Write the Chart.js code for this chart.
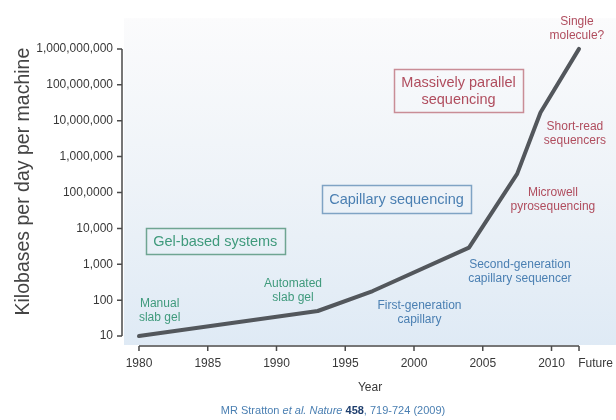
<!DOCTYPE html>
<html>
<head>
<meta charset="utf-8">
<script src="https://cdn.jsdelivr.net/npm/chart.js@4.4.1/dist/chart.umd.min.js"></script>
<style>
  html, body { margin: 0; padding: 0; background: #fff; }
  #wrap { width: 616px; height: 420px; position: relative; }
</style>
</head>
<body>
<div id="wrap"><canvas id="chart"></canvas></div>
<script>
// data (kilobases per day per machine, log scale)
const years = [1980, 1993, 1997, 2004, 2007.5, 2009.2, 2012];
const kbPerDay = [10, 50, 180, 2900, 330000, 17000000, 1000000000];

const yTickValues = [1e1, 1e2, 1e3, 1e4, 1e5, 1e6, 1e7, 1e8, 1e9];
const yTickLabels = ['10', '100', '1,000', '10,000', '100,0000', '1,000,000', '10,000,000', '100,000,000', '1,000,000,000'];
const xTickValues = [1980, 1985, 1990, 1995, 2000, 2005, 2010, 2013.2];
const xTickLabels = ['1980', '1985', '1990', '1995', '2000', '2005', '2010', 'Future'];
const xSpineTicks = [1980, 1985, 1990, 1995, 2000, 2005, 2010, 2012];

const GREEN = '#3f9a7c', BLUE = '#4a7fb2', RED = '#b04d5e';

// boxed era labels, anchored at [year, value]
const eraBoxes = [
  { text: ['Gel-based systems'], at: [1985.55, 4450], w: 139, h: 26, color: GREEN, border: '#6fa592' },
  { text: ['Capillary sequencing'], at: [1998.73, 64000], w: 149, h: 28, color: BLUE, border: '#7fa3c4' },
  { text: ['Massively parallel', 'sequencing'], at: [2003.24, 6.8e7], w: 129, h: 43, color: RED, border: '#c98d96' }
];

// technology labels, anchored at [year, value]
const techLabels = [
  { text: ['Manual', 'slab gel'], at: [1981.5, 52], color: GREEN },
  { text: ['Automated', 'slab gel'], at: [1991.2, 180], color: GREEN },
  { text: ['First-generation', 'capillary'], at: [2000.4, 46], color: BLUE },
  { text: ['Second-generation', 'capillary sequencer'], at: [2007.7, 640], color: BLUE },
  { text: ['Microwell', 'pyrosequencing'], at: [2010.1, 62000], color: RED },
  { text: ['Short-read', 'sequencers'], at: [2011.7, 4.3e6], color: RED },
  { text: ['Single', 'molecule?'], at: [2011.85, 3.7e9], color: RED }
];

const FONT = '"Liberation Sans", Arial, Helvetica, sans-serif';

const bgPlugin = {
  id: 'bg',
  beforeDraw(chart) {
    const { ctx, chartArea: a } = chart;
    const g = ctx.createLinearGradient(0, a.top, 0, a.bottom);
    g.addColorStop(0, '#fbfbfc');
    g.addColorStop(0.5, '#eef3f8');
    g.addColorStop(1, '#dfeaf5');
    ctx.save();
    ctx.fillStyle = g;
    ctx.fillRect(a.left, a.top, a.right - a.left, a.bottom - a.top);
    ctx.restore();
  }
};

function drawLines(ctx, lines, cx, cy, lh) {
  const y0 = cy - (lines.length - 1) * lh / 2;
  lines.forEach((t, i) => ctx.fillText(t, cx, y0 + i * lh));
}

const annotationPlugin = {
  id: 'annotations',
  afterDatasetsDraw(chart) {
    const { ctx, scales: { x, y } } = chart;
    ctx.save();
    ctx.textAlign = 'center';
    ctx.textBaseline = 'middle';
    eraBoxes.forEach(b => {
      const cx = x.getPixelForValue(b.at[0]), cy = y.getPixelForValue(b.at[1]);
      ctx.strokeStyle = b.border;
      ctx.lineWidth = 1.5;
      ctx.strokeRect(Math.round(cx - b.w / 2) + 0.5, Math.round(cy - b.h / 2) + 0.5, b.w, b.h);
      ctx.fillStyle = b.color;
      ctx.font = '14.5px ' + FONT;
      drawLines(ctx, b.text, cx, cy + 1, 17);
    });
    techLabels.forEach(l => {
      const cx = x.getPixelForValue(l.at[0]), cy = y.getPixelForValue(l.at[1]);
      ctx.fillStyle = l.color;
      ctx.font = '12px ' + FONT;
      drawLines(ctx, l.text, cx, cy, 14);
    });
    ctx.restore();
  }
};

const spinePlugin = {
  id: 'spines',
  afterDraw(chart) {
    const { ctx, chartArea: a, scales: { x, y } } = chart;
    ctx.save();
    ctx.strokeStyle = '#4a4a4a';
    ctx.lineWidth = 1.5;
    // y spine
    const sx = a.left - 2;
    const yTop = y.getPixelForValue(yTickValues[yTickValues.length - 1]);
    const yBot = y.getPixelForValue(yTickValues[0]);
    ctx.beginPath();
    ctx.moveTo(sx, yTop); ctx.lineTo(sx, yBot);
    yTickValues.forEach(v => {
      const p = y.getPixelForValue(v);
      ctx.moveTo(sx - 5, p); ctx.lineTo(sx, p);
    });
    ctx.stroke();
    // x spine
    const sy = a.bottom + 1;
    const xl = x.getPixelForValue(xSpineTicks[0]);
    const xr = x.getPixelForValue(xSpineTicks[xSpineTicks.length - 1]);
    ctx.beginPath();
    ctx.moveTo(xl, sy); ctx.lineTo(xr, sy);
    xSpineTicks.forEach(v => {
      const p = x.getPixelForValue(v);
      ctx.moveTo(p, sy); ctx.lineTo(p, sy + 5);
    });
    ctx.stroke();

    // citation line
    const parts = [
      { t: 'MR Stratton ', f: '11px ' + FONT, c: BLUE },
      { t: 'et al.', f: 'italic 11px ' + FONT, c: BLUE },
      { t: ' ', f: '11px ' + FONT, c: BLUE },
      { t: 'Nature', f: 'italic 11px ' + FONT, c: BLUE },
      { t: ' ', f: '11px ' + FONT, c: BLUE },
      { t: '458', f: 'bold 11px ' + FONT, c: '#1f3f6e' },
      { t: ', 719-724 (2009)', f: '11px ' + FONT, c: BLUE }
    ];
    let total = 0;
    parts.forEach(p => { ctx.font = p.f; p.w = ctx.measureText(p.t).width; total += p.w; });
    let cx = 333 - total / 2;
    ctx.textBaseline = 'middle';
    ctx.textAlign = 'left';
    parts.forEach(p => { ctx.font = p.f; ctx.fillStyle = p.c; ctx.fillText(p.t, cx, 411); cx += p.w; });
    ctx.restore();
  }
};

function initChart() {
  const ctx = document.getElementById('chart').getContext('2d');
  new Chart(ctx, {
    type: 'line',
    data: {
      datasets: [{
        data: years.map((yr, i) => ({ x: yr, y: kbPerDay[i] })),
        borderColor: '#53575c',
        borderWidth: 4,
        borderJoinStyle: 'round',
        borderCapStyle: 'round',
        tension: 0,
        pointRadius: 0,
        fill: false
      }]
    },
    options: {
      responsive: true,
      maintainAspectRatio: false,
      animation: false,
      layout: { padding: { top: 15, left: 0, right: 0, bottom: 0 } },
      plugins: { legend: { display: false }, tooltip: { enabled: false } },
      scales: {
        x: {
          type: 'linear',
          min: 1978.91,
          max: 2014.69,
          grid: { display: false, drawTicks: false },
          border: { display: false },
          afterBuildTicks: s => { s.ticks = xTickValues.map(v => ({ value: v })); },
          afterFit: s => { s.height = 75; s.paddingLeft = 0; s.paddingRight = 0; },
          ticks: {
            padding: 11,
            color: '#383838',
            font: { family: FONT, size: 12 },
            maxRotation: 0,
            autoSkip: false,
            callback: (v, i) => xTickLabels[i]
          },
          title: {
            display: true,
            text: 'Year',
            color: '#383838',
            font: { family: FONT, size: 12 },
            padding: { top: 0, bottom: 25 }
          }
        },
        y: {
          type: 'logarithmic',
          min: 5.65,
          max: 7.16e9,
          grid: { display: false, drawTicks: false },
          border: { display: false },
          afterBuildTicks: s => { s.ticks = yTickValues.map(v => ({ value: v })); },
          afterFit: s => { s.width = 124; },
          ticks: {
            padding: 11,
            color: '#383838',
            font: { family: FONT, size: 12 },
            autoSkip: false,
            callback: (v, i) => yTickLabels[i]
          },
          title: {
            display: true,
            text: 'Kilobases per day per machine',
            color: '#444',
            font: { family: FONT, size: 19.5 },
            padding: { top: 12, bottom: 0 }
          }
        }
      }
    },
    plugins: [bgPlugin, annotationPlugin, spinePlugin]
  });
}

window.onload = initChart;
</script>
</body>
</html>
